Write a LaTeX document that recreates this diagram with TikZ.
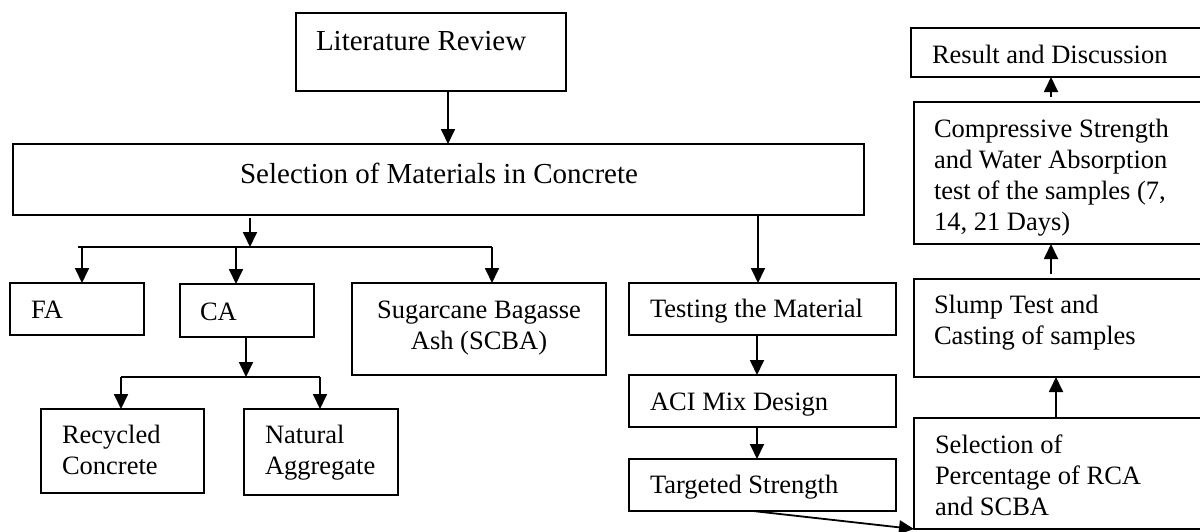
\documentclass[tikz,border=0pt]{standalone}
\usepackage{fontspec}
\setmainfont{Liberation Serif}
\usetikzlibrary{arrows.meta}
\newcommand\fsbig{\fontsize{29}{33}\selectfont}
\newcommand\fsnorm{\fontsize{26.5}{31}\selectfont}
\tikzset{
  box/.style={draw, line width=1.8pt, rectangle, outer sep=0pt, inner sep=0pt, anchor=north west},
  txt/.style={inner sep=0pt, outer sep=0pt, anchor=base west, font=\fsnorm},
  arr/.style={line width=1.8pt, -{Triangle[length=15pt,width=14pt]}},
  ln/.style={line width=1.8pt}
}
\newcommand\mybox[5]{\node[box, minimum width={#4-#2}, minimum height={#5-#3}] (#1) at (#2,#3) {};}
\begin{document}
\begin{tikzpicture}[x=1pt,y=-1pt]
\useasboundingbox (0,0) rectangle (1200,531);
\fill[white] (0,0) rectangle (1200,531);
\clip (0,0) rectangle (1200,531);
% boxes
\mybox{lr}{296}{13}{566}{91}
\mybox{sel}{13}{144}{864}{215}
\mybox{fa}{10}{283}{144}{335}
\mybox{ca}{180}{284}{314}{337}
\mybox{rc}{41}{409}{204}{493}
\mybox{na}{244}{409}{398}{495}
\mybox{scba}{352}{283}{606}{375}
\mybox{test}{629}{283}{896}{335}
\mybox{aci}{629}{375}{896}{427}
\mybox{tgt}{629}{459}{896}{511}
\mybox{res}{911}{28}{1215}{77}
\mybox{comp}{914}{102}{1215}{244}
\mybox{slump}{914}{279}{1215}{377}
\mybox{pct}{914}{418}{1215}{529}
% texts
\node[txt, font=\fsbig] (lrt) at (316,50) {Literature Review};
\node[txt, font=\fsbig, anchor=base] (selt) at (439,183) {Selection of Materials in Concrete};
\node[txt] (fat) at (31,318) {FA};
\node[txt] (cat) at (200,320) {CA};
\node[txt, anchor=base] (scbat) at (479,318) {\begin{tabular}[t]{@{}c@{}}Sugarcane Bagasse\\Ash (SCBA)\end{tabular}};
\node[txt] (rct) at (62,443) {\begin{tabular}[t]{@{}l@{}}Recycled\\Concrete\end{tabular}};
\node[txt] (nat) at (265,443) {\begin{tabular}[t]{@{}l@{}}Natural\\Aggregate\end{tabular}};
\node[txt] (testt) at (650,317) {Testing the Material};
\node[txt] (acit) at (650,410) {ACI Mix Design};
\node[txt] (tgtt) at (650,493) {Targeted Strength};
\node[txt] (rest) at (932,63) {Result and Discussion};
\node[txt] (compt) at (934,137) {\begin{tabular}[t]{@{}l@{}}Compressive Strength\\and Water Absorption\\test of the samples (7,\\14, 21 Days)\end{tabular}};
\node[txt] (slumpt) at (934,313) {\begin{tabular}[t]{@{}l@{}}Slump Test and\\Casting of samples\end{tabular}};
\node[txt] (pctt) at (935,453) {\begin{tabular}[t]{@{}l@{}}Selection of\\Percentage of RCA\\and SCBA\end{tabular}};
% bar coordinates
\coordinate (b1l) at (78,247);
\coordinate (b1r) at (492,247);
\coordinate (b2l) at (121,377);
\coordinate (b2r) at (320,377);
% connectors
\draw[arr] (448,0 |- lr.south) -- (448,0 |- sel.north);
\draw[arr] (250,218) -- (250,0 |- b1l);
\draw[ln] (b1l) -- (b1r);
\draw[arr] (82,0 |- b1l) -- (82,0 |- fa.north);
\draw[arr] (236,0 |- b1l) -- (236,0 |- ca.north);
\draw[arr] (b1r) -- (b1r |- scba.north);
\draw[arr] (246,0 |- ca.south) -- (246,0 |- b2l);
\draw[ln] (b2l) -- (b2r);
\draw[arr] (b2l) -- (b2l |- rc.north);
\draw[arr] (b2r) -- (b2r |- na.north);
\draw[arr] (758,0 |- sel.south) -- (758,0 |- test.north);
\draw[arr] (757,0 |- test.south) -- (757,0 |- aci.north);
\draw[arr] (757,0 |- aci.south) -- (757,0 |- tgt.north);
\draw[arr] (753,0 |- tgt.south) -- (pct.south west);
\draw[arr] (1056,0 |- pct.north) -- (1056,0 |- slump.south);
\draw[arr, shorten <=5pt] (1051,0 |- slump.north) -- (1051,0 |- comp.south);
\draw[arr, shorten <=5pt] (1051,0 |- comp.north) -- (1051,0 |- res.south);
\end{tikzpicture}
\end{document}
